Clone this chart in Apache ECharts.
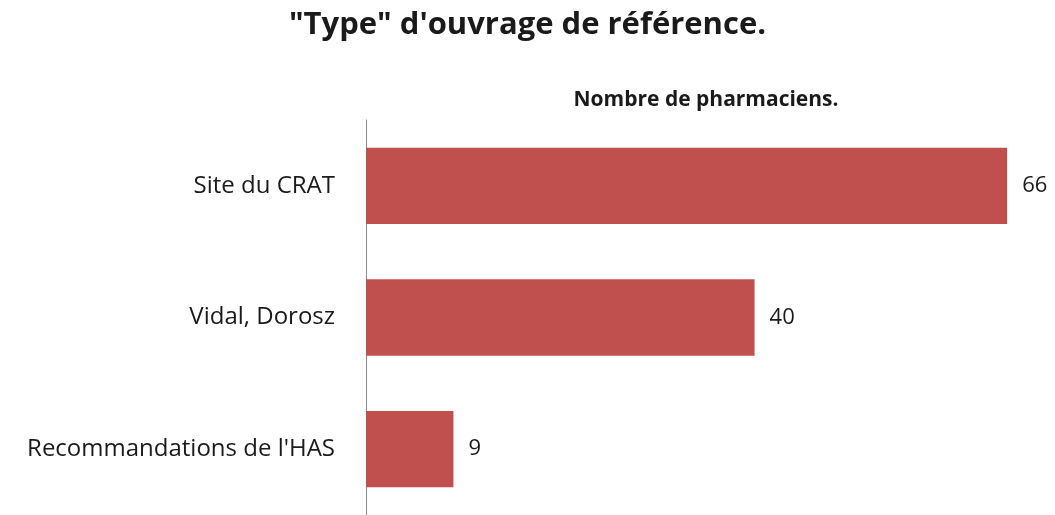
<!DOCTYPE html>
<html>
<head>
  <meta charset="utf-8"/>
  <title>Type d'ouvrage de référence</title>
  <script src="https://cdn.jsdelivr.net/npm/echarts@6/dist/echarts.min.js"></script>
</head>
<body style="margin:0;padding:0;background:#fff">
<div id="chart" style="width:1055px;height:515px;"></div>
<script type="text/javascript">
var categories = ["Recommandations de l'HAS", "Vidal, Dorosz", "Site du CRAT"];
var values = [9, 40, 66];
var titleText = "\"Type\" d'ouvrage de référence.";
var axisName = "Nombre de pharmaciens.";

var chart = echarts.init(document.getElementById('chart'));
var option = {
  animation: false,
  title: {
    text: titleText,
    left: 'center',
    top: 5,
    textStyle: {fontFamily: 'Open Sans', fontWeight: 'bold', fontSize: 31, color: '#1a1a1a'}
  },
  grid: {left: 366, top: 120, width: 680, height: 399},
  xAxis: {
    type: 'value',
    position: 'top',
    min: 0,
    max: 70,
    name: axisName,
    nameLocation: 'middle',
    nameGap: 9,
    nameTextStyle: {fontFamily: 'Open Sans', fontWeight: 'bold', fontSize: 21, color: '#1a1a1a'},
    axisLine: {show: false},
    axisTick: {show: false},
    axisLabel: {show: false},
    splitLine: {show: false}
  },
  yAxis: {
    type: 'category',
    data: categories,
    axisLine: {show: true, lineStyle: {color: '#8c8c8c', width: 1}},
    axisTick: {show: false},
    axisLabel: {fontFamily: 'Open Sans', fontSize: 24, color: '#1a1a1a', margin: 31}
  },
  series: [{
    type: 'bar',
    data: values,
    barCategoryGap: '42%',
    itemStyle: {color: '#C0504D'},
    label: {
      show: true,
      position: 'right',
      distance: 15,
      fontFamily: 'Open Sans',
      fontSize: 22,
      color: '#1a1a1a'
    }
  }]
};
chart.setOption(option);
</script>
</body>
</html>
